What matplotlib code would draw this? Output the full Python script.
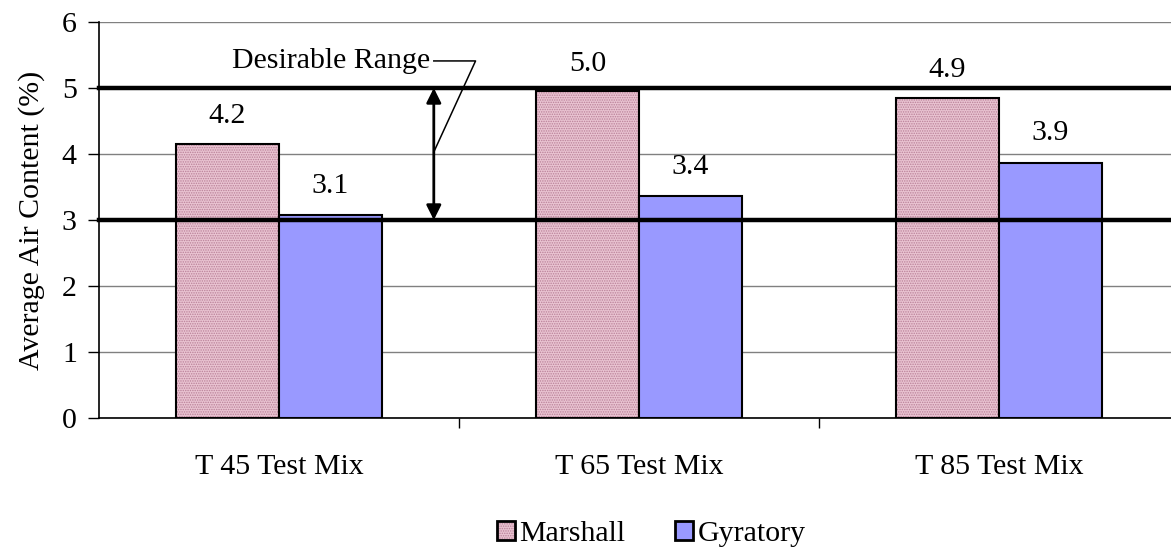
import matplotlib.pyplot as plt
import numpy as np
from matplotlib.patches import Patch
from matplotlib.legend_handler import HandlerTuple

plt.rcParams['font.family'] = ['Liberation Serif', 'DejaVu Serif']
plt.rcParams['hatch.linewidth'] = 0.7

# data
mixes = ['T 45 Test Mix', 'T 65 Test Mix', 'T 85 Test Mix']
marshall = [4.15, 4.95, 4.85]
gyratory = [3.07, 3.36, 3.87]
marshall_labels = ['4.2', '5.0', '4.9']
gyratory_labels = ['3.1', '3.4', '3.9']
range_low, range_high = 3, 5

fs = 21.5
pink = '#e9c3d1'
pink_hatch = '#b98098'
fig = plt.figure(figsize=(11.71, 5.48), dpi=100)
ax = fig.add_axes([99 / 1171, 130 / 548, 1080 / 1171, 396 / 548])

x = np.arange(len(mixes))
w = 0.286

# Marshall bars: hatched pink fill then black outline
ax.bar(x - w / 2, marshall, w, color=pink, hatch='.......',
       edgecolor=pink_hatch, linewidth=0, zorder=2)
ax.bar(x - w / 2, marshall, w, fill=False, edgecolor='black', linewidth=1.5, zorder=3)
ax.bar(x + w / 2, gyratory, w, color='#9999ff', edgecolor='black', linewidth=1.5, zorder=3)

for i in range(len(mixes)):
    ax.text(x[i] - w / 2, marshall[i] + 0.42, marshall_labels[i], ha='center', va='center', fontsize=fs)
    ax.text(x[i] + w / 2, gyratory[i] + 0.45, gyratory_labels[i], ha='center', va='center', fontsize=fs)

# desirable range lines
ax.axhline(range_high, color='black', linewidth=3.2, zorder=4, clip_on=False)
ax.axhline(range_low, color='black', linewidth=3.2, zorder=4, clip_on=False)

# double-headed arrow and label
ax.annotate('', xy=(0.43, range_high), xytext=(0.43, range_low),
            arrowprops=dict(arrowstyle='<|-|>', color='black', lw=2,
                            mutation_scale=22, shrinkA=0, shrinkB=0), zorder=5)
ax.plot([0.43, 0.546, 0.43], [5.41, 5.41, 4.03], color='black', lw=1.1, zorder=5, clip_on=False)
ax.text(0.42, 5.41, 'Desirable Range', ha='right', va='center', fontsize=fs, zorder=6,
        bbox=dict(facecolor='white', edgecolor='none', pad=1))

ax.set_xlim(-0.5, 2.5)
ax.set_ylim(0, 6)
ax.set_yticks(range(0, 7))
ax.tick_params(axis='y', labelsize=fs, length=8, width=1, direction='out', pad=8)
ax.set_xticks(x)
ax.set_xticklabels(mixes, fontsize=fs)
ax.set_xticks([0.5, 1.5], minor=True)
ax.tick_params(axis='x', which='major', length=0, pad=26)
ax.tick_params(axis='x', which='minor', length=7, width=1, direction='out')
ax.grid(axis='y', color='#808080', linewidth=1, zorder=0)
ax.set_axisbelow(True)
ax.spines['top'].set_visible(False)
ax.spines['right'].set_visible(False)
ax.spines['left'].set_linewidth(1.2)
ax.spines['bottom'].set_linewidth(1.2)
ax.set_ylabel('Average Air Content (%)', fontsize=fs, labelpad=12)

h_marshall = (Patch(facecolor=pink, hatch='.......', edgecolor=pink_hatch, linewidth=0),
              Patch(fill=False, edgecolor='black', linewidth=2))
h_gyr = Patch(facecolor='#9999ff', edgecolor='black', linewidth=2)
fig.legend([h_marshall, h_gyr], ['Marshall', 'Gyratory'],
           handler_map={tuple: HandlerTuple(ndivide=1, pad=0)},
           loc='center', bbox_to_anchor=(0.556, 0.025), ncol=2, frameon=False,
           fontsize=fs, handlelength=0.6, handleheight=0.6, handletextpad=0.15,
           columnspacing=1.67)

plt.savefig('out.png', dpi=100)
